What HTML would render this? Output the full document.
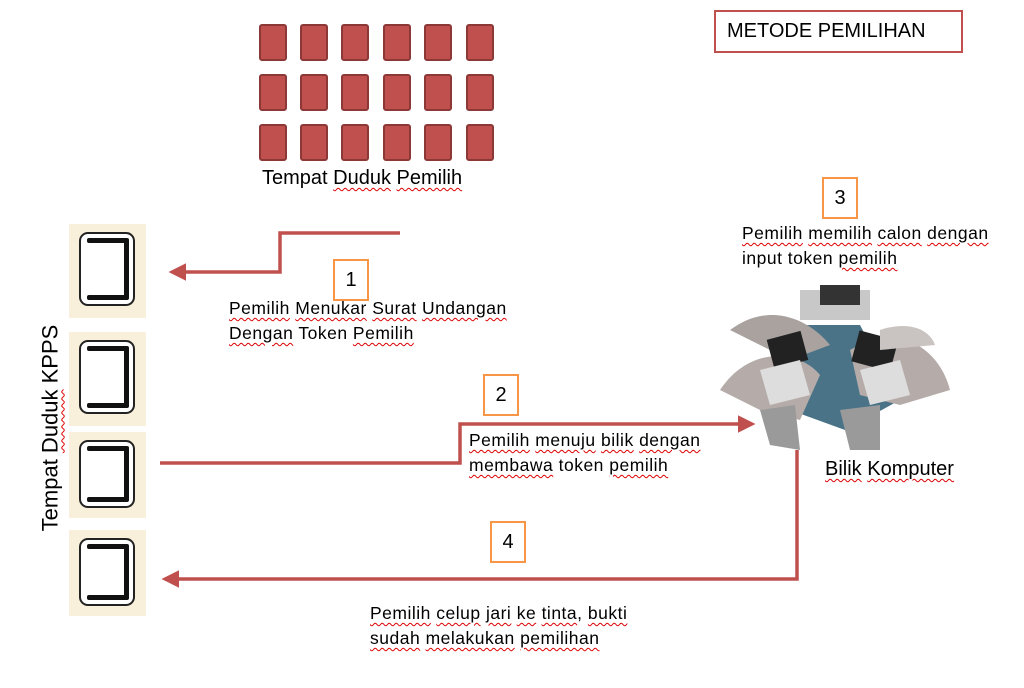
<!DOCTYPE html>
<html><head><meta charset="utf-8"><style>
body{margin:0;width:1024px;height:688px;background:#fff;position:relative;overflow:hidden;font-family:"Liberation Sans",sans-serif;color:#000}
.s{position:absolute;width:24px;height:33px;background:#c0504d;border:2px solid #8c3836;border-radius:3px}
.t{position:absolute;white-space:nowrap;font-size:17.5px;letter-spacing:0.5px;line-height:25px}
.u{text-decoration:underline wavy #d00;text-decoration-thickness:1px;text-underline-offset:3px}
.n{position:absolute;width:32px;height:38px;border:2px solid #f79646;font-size:20px;text-align:center;line-height:38px}
.ch{position:absolute;left:69px;width:77px;background:#f8f0da}
.ch div{position:absolute;left:10px;top:8px;width:52px;height:70px;border:2px solid #222;border-radius:9px;background:#fff}
.ch div:before{content:"";position:absolute;left:6px;right:4px;top:4px;height:5px;background:#111;border-radius:2px}
.ch div:after{content:"";position:absolute;left:6px;right:4px;bottom:4px;height:5px;background:#111;border-radius:2px}
.ch i{position:absolute;right:4px;top:6px;bottom:6px;width:5px;background:#111}
</style></head><body>
<div class="s" style="left:259px;top:24px"></div><div class="s" style="left:300px;top:24px"></div><div class="s" style="left:341px;top:24px"></div><div class="s" style="left:383px;top:24px"></div><div class="s" style="left:424px;top:24px"></div><div class="s" style="left:466px;top:24px"></div>
<div class="s" style="left:259px;top:74px"></div><div class="s" style="left:300px;top:74px"></div><div class="s" style="left:341px;top:74px"></div><div class="s" style="left:383px;top:74px"></div><div class="s" style="left:424px;top:74px"></div><div class="s" style="left:466px;top:74px"></div>
<div class="s" style="left:259px;top:124px"></div><div class="s" style="left:300px;top:124px"></div><div class="s" style="left:341px;top:124px"></div><div class="s" style="left:383px;top:124px"></div><div class="s" style="left:424px;top:124px"></div><div class="s" style="left:466px;top:124px"></div>
<div class="t" style="left:262px;top:166px;font-size:20px;letter-spacing:0">Tempat <span class="u">Duduk</span> <span class="u">Pemilih</span></div>
<div style="position:absolute;left:714px;top:10px;width:245px;height:39px;border:2px solid #c0504d;font-size:20px;line-height:39px;text-indent:11px">METODE PEMILIHAN</div>

<div class="ch" style="top:224px;height:94px"><div><i></i></div></div>
<div class="ch" style="top:332px;height:94px"><div><i></i></div></div>
<div class="ch" style="top:432px;height:86px"><div style="height:64px"><i></i></div></div>
<div class="ch" style="top:530px;height:86px"><div style="height:64px"><i></i></div></div>
<div class="t" style="left:50px;top:428px;font-size:22px;letter-spacing:0;transform:translate(-50%,-50%) rotate(-90deg)">Tempat <span class="u">Duduk</span> KPPS</div>

<svg style="position:absolute;left:0;top:0" width="1024" height="688">
<defs><marker id="a" markerWidth="5" markerHeight="5" refX="4" refY="2.5" orient="auto" markerUnits="strokeWidth"><path d="M0,0 L5,2.5 L0,5 z" fill="#c0504d"/></marker></defs>
<g fill="none" stroke="#c0504d" stroke-width="3.5">
<path d="M400,233 H280 V272 H172" marker-end="url(#a)"/>
<path d="M160,463 H460 V424 H752" marker-end="url(#a)"/>
<path d="M797,450 V579 H165" marker-end="url(#a)"/>
</g>
<g>
<path d="M800,325 L860,325 L900,400 L845,430 L790,410 Z" fill="#4a7388"/>
<path d="M730,330 C770,300 810,320 830,345 L790,360 Z" fill="#a9a29f"/>
<path d="M720,390 C750,345 800,350 820,375 L800,420 L760,410 Z" fill="#b5aca9"/>
<path d="M850,350 C900,320 940,350 950,390 L900,405 L860,395 Z" fill="#b5aca9"/>
<path d="M800,290 H870 V320 H800 Z" fill="#c8c8c8"/>
<path d="M820,285 H860 V305 H820 Z" fill="#333"/>
<rect x="770" y="335" width="35" height="30" fill="#222" transform="rotate(-15 787 350)"/>
<rect x="855" y="335" width="40" height="32" fill="#222" transform="rotate(15 875 350)"/>
<path d="M760,370 L800,360 L810,395 L770,405 Z" fill="#ddd"/>
<path d="M860,370 L900,360 L910,395 L870,405 Z" fill="#ddd"/>
<path d="M760,410 L795,405 L800,450 L770,445 Z" fill="#9a9a9a"/>
<path d="M840,410 L880,405 L880,450 L850,450 Z" fill="#9a9a9a"/>
<path d="M880,330 C910,320 930,330 935,345 L880,350 Z" fill="#c9c4c1"/>
</g>
</svg>

<div class="n" style="left:333px;top:259px">1</div>
<div class="n" style="left:483px;top:374px">2</div>
<div class="n" style="left:822px;top:177px">3</div>
<div class="n" style="left:490px;top:521px">4</div>

<div class="t" style="left:229px;top:296px"><span class="u">Pemilih</span> <span class="u">Menukar</span> <span class="u">Surat</span> <span class="u">Undangan</span><br><span class="u">Dengan</span> Token <span class="u">Pemilih</span></div>
<div class="t" style="left:469px;top:428px"><span class="u">Pemilih</span> <span class="u">menuju</span> <span class="u">bilik</span> <span class="u">dengan</span><br><span class="u">membawa</span> token <span class="u">pemilih</span></div>
<div class="t" style="left:742px;top:221px"><span class="u">Pemilih</span> <span class="u">memilih</span> <span class="u">calon</span> <span class="u">dengan</span><br>input token <span class="u">pemilih</span></div>
<div class="t" style="left:825px;top:457px;font-size:20px;letter-spacing:0"><span class="u">Bilik</span> <span class="u">Komputer</span></div>
<div class="t" style="left:370px;top:601px"><span class="u">Pemilih</span> <span class="u">celup</span> <span class="u">jari</span> <span class="u">ke</span> <span class="u">tinta</span>, <span class="u">bukti</span><br><span class="u">sudah</span> <span class="u">melakukan</span> <span class="u">pemilihan</span></div>
</body></html>
